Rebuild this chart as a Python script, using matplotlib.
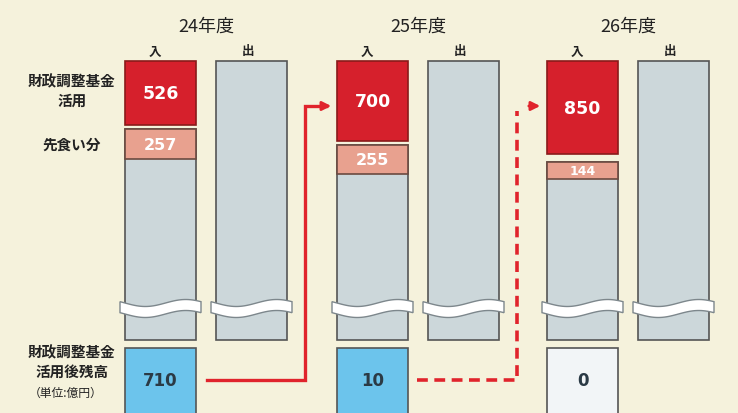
import numpy as np
import matplotlib.pyplot as plt
from matplotlib.patches import Rectangle, Polygon

plt.rcParams['font.family'] = ['Noto Sans CJK JP', 'DejaVu Sans']

years = ['24年度', '25年度', '26年度']
fund_use = [526, 700, 850]        # 財政調整基金活用
advance = [257, 255, 144]         # 先食い分
balance = [710, 10, 0]            # 活用後残高
balance_colors = ['#6cc4ec', '#6cc4ec', '#f2f5f7']

bg = '#f5f2dc'
red = '#d6202c'
pink = '#e8a18f'
pale = '#ccd7da'
edge = '#555555'

fig = plt.figure(figsize=(7.38, 4.14), dpi=100)
fig.patch.set_facecolor(bg)
ax = fig.add_axes([0, 0, 1, 1])
ax.set_xlim(0, 738)
ax.set_ylim(414, 0)
ax.axis('off')

group_x = [125, 337, 547]
bw = 71
gap = 20
top = 62
bottom = 341
wave_y = 304

def wavy(x0, x1):
    xs = np.linspace(x0 - 5, x1 + 5, 40)
    yt = wave_y + 3.5 * np.sin((xs - x0) / (x1 - x0 + 10) * 2 * np.pi)
    pts = list(zip(xs, yt)) + list(zip(xs[::-1], yt[::-1] + 11))
    ax.add_patch(Polygon(pts, closed=True, fc='white', ec='#7d878c', lw=1, zorder=5))

num_font = ['DejaVu Sans']

for i, x in enumerate(group_x):
    xo = x + bw + gap
    # year and in/out labels
    ax.text(x + (bw * 2 + gap) / 2, 27, years[i], ha='center', va='center', fontsize=13, color='#222')
    ax.text(x + 30, 52, '入', ha='center', va='center', fontsize=9, fontweight='bold', color='#222')
    ax.text(xo + 32, 52, '出', ha='center', va='center', fontsize=9, fontweight='bold', color='#222')
    # outflow column
    ax.add_patch(Rectangle((xo, top), bw, bottom - top, fc=pale, ec=edge, lw=1.2))
    # inflow column
    h_red = 17 + fund_use[i] * 0.0895
    h_pink = advance[i] * 0.117
    y_pink = top + h_red + 4 + (4 if i == 2 else 0)
    ax.add_patch(Rectangle((x, y_pink), bw, bottom - y_pink, fc=pale, ec=edge, lw=1.2))
    ax.add_patch(Rectangle((x, top), bw, h_red, fc=red, ec='#8a1a1a', lw=1.2))
    ax.add_patch(Rectangle((x, y_pink), bw, h_pink, fc=pink, ec='#6b4a40', lw=1.2))
    ax.text(x + bw / 2, top + h_red / 2, str(fund_use[i]), ha='center', va='center',
            fontsize=12.5, fontweight='bold', color='white', family=num_font)
    ax.text(x + bw / 2, y_pink + h_pink / 2, str(advance[i]), ha='center', va='center',
            fontsize=11.5 if h_pink > 20 else 9, fontweight='bold', color='white', family=num_font)
    wavy(x, x + bw)
    wavy(xo, xo + bw)
    # balance box
    ax.add_patch(Rectangle((x, 349), bw, 70, fc=balance_colors[i], ec=edge, lw=1.2))
    ax.text(x + bw / 2, 381, str(balance[i]), ha='center', va='center',
            fontsize=12, fontweight='bold', color='#2b3a45', family=num_font)

# arrows
ax.plot([207, 305, 305, 326], [381, 381, 107, 107], color='#e0242c', lw=2.4, solid_joinstyle='miter')
ax.annotate('', xy=(334, 107), xytext=(322, 107),
            arrowprops=dict(arrowstyle='-|>', color='#e0242c', lw=2, mutation_scale=13))
ax.plot([417, 517, 517], [381, 381, 112], color='#e0242c', lw=2.6, linestyle=(0, (3, 1.8)))
ax.annotate('', xy=(543, 107), xytext=(526, 107),
            arrowprops=dict(arrowstyle='-|>', color='#e0242c', lw=2, mutation_scale=13))

# left labels
ax.text(72, 91, '財政調整基金\n活用', ha='center', va='center', fontsize=10.5,
        fontweight='bold', color='#222', linespacing=1.2)
ax.text(72, 145, '先食い分', ha='center', va='center', fontsize=10.5,
        fontweight='bold', color='#222')
ax.text(72, 362, '財政調整基金\n活用後残高', ha='center', va='center', fontsize=10.5,
        fontweight='bold', color='#222', linespacing=1.2)
ax.text(66, 393, '（単位:億円）', ha='center', va='center', fontsize=8.5, color='#222')

fig.savefig('out.png', dpi=100, facecolor=bg)
